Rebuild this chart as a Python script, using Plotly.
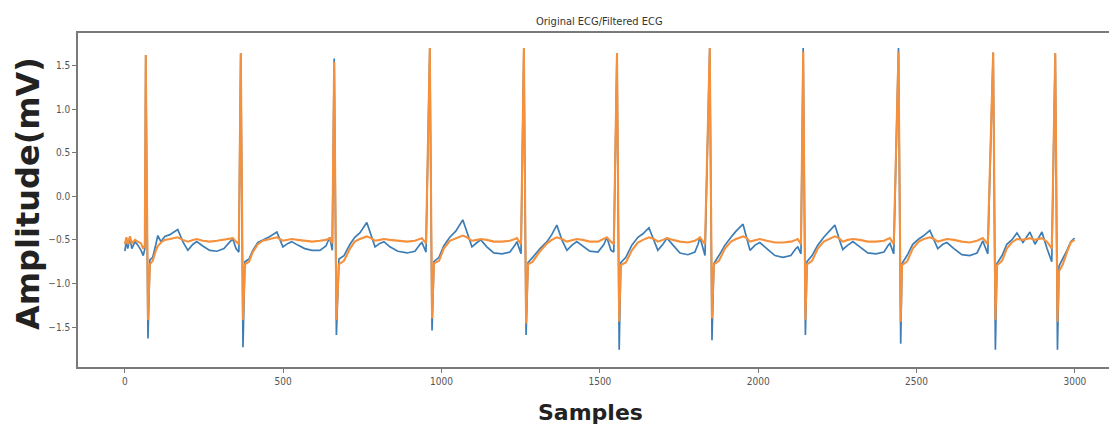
import plotly.graph_objects as go

# ---- data (key points) ----
samples = [
    0, 5, 9, 16, 22, 32, 41, 51, 58, 63,
    66, 73, 79, 88, 98, 104, 114, 126, 142, 167, 183, 199, 215, 227, 246, 268, 291, 313, 332, 341, 351, 360,
    366, 373, 379, 392, 404, 420, 436, 458, 480, 499, 515, 527, 546, 568, 591, 616, 635, 647, 655,
    661, 668, 676, 692, 711, 726, 742, 764, 777, 790, 805, 818, 837, 862, 891, 916, 932, 938, 951,
    963, 970, 976, 992, 1007, 1026, 1045, 1067, 1080, 1096, 1112, 1124, 1143, 1165, 1191, 1216, 1232, 1238, 1251,
    1260, 1267, 1273, 1288, 1311, 1333, 1348, 1364, 1380, 1396, 1412, 1427, 1446, 1468, 1494, 1513, 1522, 1535, 1544,
    1554, 1561, 1566, 1582, 1601, 1620, 1636, 1655, 1671, 1683, 1699, 1712, 1731, 1753, 1778, 1800, 1810, 1816, 1832,
    1847, 1854, 1860, 1876, 1895, 1914, 1930, 1952, 1964, 1974, 1990, 2005, 2027, 2053, 2078, 2103, 2119, 2125, 2135,
    2142, 2149, 2154, 2170, 2188, 2207, 2223, 2242, 2255, 2267, 2283, 2299, 2321, 2346, 2372, 2397, 2409, 2416, 2428,
    2443, 2450, 2454, 2470, 2488, 2507, 2523, 2542, 2555, 2567, 2583, 2596, 2618, 2643, 2668, 2691, 2703, 2709, 2725,
    2742, 2749, 2754, 2770, 2785, 2801, 2817, 2836, 2858, 2874, 2896, 2912, 2927,
    2938, 2945, 2950, 2962, 2975, 2987, 2999,
]

original_mv = [
    -0.63, -0.50, -0.60, -0.47, -0.60, -0.52, -0.56, -0.62, -0.68, -0.60,
    1.62, -1.63, -0.73, -0.70, -0.55, -0.45, -0.52, -0.46, -0.44, -0.38, -0.52, -0.62, -0.55, -0.52, -0.57, -0.62, -0.63, -0.60, -0.52, -0.49, -0.60, -0.64,
    1.64, -1.73, -0.75, -0.72, -0.62, -0.53, -0.50, -0.46, -0.41, -0.58, -0.54, -0.52, -0.56, -0.60, -0.62, -0.62, -0.57, -0.47, -0.62,
    1.58, -1.59, -0.72, -0.68, -0.55, -0.47, -0.42, -0.30, -0.45, -0.58, -0.54, -0.52, -0.58, -0.63, -0.65, -0.63, -0.55, -0.53, -0.64,
    1.70, -1.54, -0.75, -0.70, -0.57, -0.47, -0.40, -0.27, -0.42, -0.58, -0.53, -0.50, -0.58, -0.65, -0.66, -0.64, -0.56, -0.52, -0.66,
    1.70, -1.59, -0.76, -0.70, -0.60, -0.52, -0.44, -0.33, -0.50, -0.62, -0.56, -0.52, -0.57, -0.63, -0.64, -0.55, -0.47, -0.62, -0.64,
    1.64, -1.76, -0.76, -0.70, -0.56, -0.47, -0.43, -0.36, -0.50, -0.62, -0.55, -0.48, -0.56, -0.65, -0.67, -0.64, -0.55, -0.47, -0.68,
    1.70, -1.65, -0.77, -0.68, -0.56, -0.47, -0.40, -0.32, -0.48, -0.62, -0.56, -0.53, -0.60, -0.68, -0.70, -0.68, -0.60, -0.58, -0.66,
    1.70, -1.59, -0.75, -0.68, -0.56, -0.47, -0.40, -0.33, -0.48, -0.61, -0.56, -0.52, -0.58, -0.65, -0.66, -0.64, -0.57, -0.54, -0.66,
    1.70, -1.69, -0.77, -0.68, -0.55, -0.49, -0.45, -0.39, -0.50, -0.60, -0.55, -0.53, -0.60, -0.67, -0.68, -0.65, -0.56, -0.51, -0.66,
    1.65, -1.76, -0.77, -0.68, -0.55, -0.50, -0.42, -0.53, -0.41, -0.55, -0.41, -0.60, -0.75,
    1.64, -1.76, -0.80, -0.72, -0.62, -0.52, -0.48,
]

filtered_mv = [
    -0.55, -0.47, -0.55, -0.46, -0.54, -0.50, -0.52, -0.54, -0.60, -0.56,
    1.62, -1.42, -0.78, -0.74, -0.62, -0.57, -0.53, -0.50, -0.49, -0.47, -0.50, -0.52, -0.50, -0.49, -0.51, -0.52, -0.51, -0.50, -0.49, -0.48, -0.52, -0.55,
    1.64, -1.42, -0.78, -0.75, -0.64, -0.55, -0.51, -0.49, -0.47, -0.51, -0.50, -0.49, -0.50, -0.51, -0.52, -0.51, -0.50, -0.48, -0.54,
    1.54, -1.42, -0.78, -0.74, -0.60, -0.52, -0.49, -0.46, -0.48, -0.51, -0.50, -0.49, -0.50, -0.51, -0.52, -0.51, -0.49, -0.48, -0.54,
    1.70, -1.40, -0.77, -0.74, -0.60, -0.51, -0.48, -0.45, -0.47, -0.51, -0.50, -0.49, -0.50, -0.52, -0.52, -0.51, -0.49, -0.48, -0.55,
    1.70, -1.46, -0.78, -0.75, -0.63, -0.54, -0.50, -0.47, -0.49, -0.52, -0.50, -0.49, -0.50, -0.52, -0.52, -0.49, -0.47, -0.52, -0.55,
    1.64, -1.44, -0.79, -0.76, -0.62, -0.53, -0.50, -0.47, -0.49, -0.52, -0.50, -0.48, -0.50, -0.52, -0.53, -0.51, -0.49, -0.47, -0.55,
    1.70, -1.40, -0.78, -0.74, -0.60, -0.52, -0.49, -0.46, -0.48, -0.52, -0.50, -0.49, -0.51, -0.53, -0.53, -0.52, -0.50, -0.49, -0.55,
    1.66, -1.42, -0.78, -0.74, -0.60, -0.52, -0.49, -0.46, -0.48, -0.52, -0.50, -0.49, -0.50, -0.52, -0.52, -0.51, -0.49, -0.48, -0.55,
    1.66, -1.44, -0.79, -0.75, -0.60, -0.52, -0.49, -0.47, -0.49, -0.52, -0.50, -0.49, -0.50, -0.52, -0.53, -0.51, -0.49, -0.48, -0.55,
    1.65, -1.42, -0.79, -0.74, -0.60, -0.53, -0.49, -0.50, -0.48, -0.50, -0.48, -0.52, -0.60,
    1.64, -1.44, -0.86, -0.78, -0.64, -0.53, -0.50,
]

x_ticks = [0, 500, 1000, 1500, 2000, 2500, 3000]
y_ticks = [-1.5, -1.0, -0.5, 0.0, 0.5, 1.0, 1.5]
y_tick_text = ["−1.5", "−1.0", "−0.5", "0.0", "0.5", "1.0", "1.5"]

chart_title = "Original ECG/Filtered ECG"
x_label = "Samples"
y_label = "Amplitude(mV)"

# ---- figure ----
fig = go.Figure()
fig.add_trace(go.Scatter(x=samples, y=original_mv, mode="lines",
                         line=dict(color="#3d7db6", width=1.7), name="Original ECG"))
fig.add_trace(go.Scatter(x=samples, y=filtered_mv, mode="lines",
                         line=dict(color="#f5913c", width=2.1), name="Filtered ECG"))

tick_font = dict(family="DejaVu Sans Condensed, Liberation Sans Narrow, DejaVu Sans, sans-serif",
                 size=10, color="#555555")

# page body adds an 8px offset; figure is sized so the plot frame lands where the reference has it
fig.update_layout(
    width=1109, height=424,
    margin=dict(l=70, r=0, t=25, b=65),
    paper_bgcolor="white", plot_bgcolor="white",
    showlegend=False,
    xaxis=dict(range=[-148, 3133], tickmode="array", tickvals=x_ticks,
               ticks="outside", ticklen=4, tickwidth=1, tickcolor="#777777",
               showline=True, linecolor="#7a7a7a", linewidth=1.6, mirror=True,
               showgrid=False, zeroline=False, tickfont=tick_font),
    yaxis=dict(range=[-1.958, 1.873], tickmode="array", tickvals=y_ticks, ticktext=y_tick_text,
               ticks="outside", ticklen=4, tickwidth=1, tickcolor="#777777",
               showline=True, linecolor="#7a7a7a", linewidth=1.6, mirror=False,
               showgrid=False, zeroline=False, tickfont=tick_font),
    annotations=[
        dict(text=chart_title, xref="paper", yref="paper", x=0.5024, y=1.034,
             xanchor="center", yanchor="middle", showarrow=False,
             font=dict(family="DejaVu Sans Condensed, DejaVu Sans, sans-serif", size=11, color="#333333")),
        dict(text=y_label, xref="paper", yref="paper", x=-0.0481, y=0.518,
             xanchor="center", yanchor="middle", showarrow=False, textangle=-90,
             font=dict(family="DejaVu Sans, sans-serif", size=32, color="#222222", weight="bold")),
        dict(text=x_label, xref="paper", yref="paper", x=0.4928, y=-0.1377,
             xanchor="center", yanchor="middle", showarrow=False,
             font=dict(family="DejaVu Sans, sans-serif", size=22, color="#222222", weight="bold")),
    ],
)

fig.write_html("out.html")
